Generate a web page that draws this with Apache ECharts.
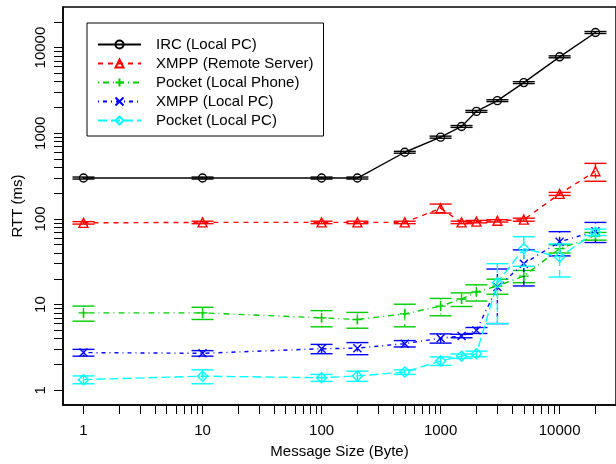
<!DOCTYPE html>
<html>
<head>
<meta charset="utf-8">
<script src="https://cdn.jsdelivr.net/npm/echarts@6/dist/echarts.min.js"></script>
<style>
  html, body { margin: 0; padding: 0; background: #fff; }
  #chart { width: 616px; height: 464px; }
</style>
</head>
<body>
<div id="chart"></div>
<script>
// message sizes (Byte)
const sizes = [1, 10, 100, 200, 500, 1000, 1500, 2000, 3000, 5000, 10000, 20000];

// RTT means (ms) and error half-widths
const ircLocal = [300, 300, 300, 300, 600, 900, 1200, 1800, 2400, 3900, 7800, 15000];
const ircLocalErr = [8, 8, 8, 8, 15, 25, 30, 45, 60, 100, 200, 400];
const xmppRemote = [90, 91, 91, 91, 91, 133, 91, 93, 95, 98, 196, 360];
const xmppRemoteErr = [3, 3, 3, 3, 3, 16, 3, 3, 3, 4, 8, 85];
const pocketPhone = [8, 8, 7, 6.7, 7.8, 9.6, 11.6, 14, 16.5, 21.5, 45, 63];
const pocketPhoneErr = [1.6, 1.3, 1.5, 1.4, 2.3, 2.2, 2.1, 3, 3.3, 3.5, 5, 6.5];
const xmppLocal = [2.75, 2.7, 3.05, 3.1, 3.5, 4.05, 4.3, 5, 16, 30, 54, 72];
const xmppLocalErr = [0.25, 0.2, 0.38, 0.5, 0.3, 0.5, 0.2, 0.4, 10, 13.5, 17, 19];
const pocketLocal = [1.33, 1.46, 1.4, 1.47, 1.63, 2.2, 2.5, 2.66, 18, 45, 36, 70];
const pocketLocalErr = [0.14, 0.27, 0.13, 0.2, 0.1, 0.25, 0.15, 0.2, 12, 17, 15, 6];

// axis ticks
const labelTicks = [1, 10, 100, 1000, 10000];
const allTicks = [1, 2, 3, 4, 5, 6, 7, 8, 9,
  10, 20, 30, 40, 50, 60, 70, 80, 90,
  100, 200, 300, 400, 500, 600, 700, 800, 900,
  1000, 2000, 3000, 4000, 5000, 6000, 7000, 8000, 9000,
  10000, 20000];

const FONT = 'Liberation Sans, Arial, sans-serif';
const LW = 1.4;

const seriesDefs = [
  { name: 'IRC (Local PC)', vals: ircLocal, errs: ircLocalErr, color: '#000000',
    dash: 'solid', symbol: 'circle', size: 8 },
  { name: 'XMPP (Remote Server)', vals: xmppRemote, errs: xmppRemoteErr, color: '#FF0000',
    dash: [5, 5], symbol: 'triangle', size: 9 },
  { name: 'Pocket (Local Phone)', vals: pocketPhone, errs: pocketPhoneErr, color: '#00CD00',
    dash: [1, 4, 6, 4], symbol: 'path://M0,5L10,5M5,0L5,10', size: 10 },
  { name: 'XMPP (Local PC)', vals: xmppLocal, errs: xmppLocalErr, color: '#0000FF',
    dash: [1, 4, 4, 4], symbol: 'path://M0,0L10,10M10,0L0,10', size: 8 },
  { name: 'Pocket (Local PC)', vals: pocketLocal, errs: pocketLocalErr, color: '#00FFFF',
    dash: [9, 4], symbol: 'diamond', size: 10 },
];

function errorBars(def, z) {
  const stemDash = Array.isArray(def.dash) ? def.dash : null;
  return {
    type: 'custom',
    name: def.name + ' err',
    silent: true,
    z: z,
    encode: { x: 0, y: 1 },
    data: sizes.map((s, i) => [s, def.vals[i], def.errs[i]]),
    renderItem: (params, api) => {
      const x = api.value(0), y = api.value(1), e = api.value(2);
      const top = api.coord([x, y + e]);
      const bot = api.coord([x, y - e]);
      const hw = 11;
      return {
        type: 'group',
        children: [
          { type: 'line', shape: { x1: top[0], y1: top[1], x2: bot[0], y2: bot[1] },
            style: { stroke: def.color, lineWidth: LW, lineDash: stemDash } },
          { type: 'line', shape: { x1: top[0] - hw, y1: top[1], x2: top[0] + hw, y2: top[1] },
            style: { stroke: def.color, lineWidth: LW } },
          { type: 'line', shape: { x1: bot[0] - hw, y1: bot[1], x2: bot[0] + hw, y2: bot[1] },
            style: { stroke: def.color, lineWidth: LW } },
        ],
      };
    },
  };
}

const series = [];
seriesDefs.forEach((def, k) => {
  series.push(errorBars(def, 2 + k * 2));
  series.push({
    name: def.name,
    type: 'line',
    z: 3 + k * 2,
    data: sizes.map((s, i) => [s, def.vals[i]]),
    symbol: def.symbol,
    symbolSize: def.size,
    showAllSymbol: true,
    lineStyle: { color: def.color, width: LW, type: def.dash },
    itemStyle: { color: 'none', borderColor: def.color, borderWidth: LW },
    emphasis: { disabled: true },
  });
});

const axisCommon = {
  type: 'log',
  logBase: 10,
  min: 0.6727,
  max: 29760,
  axisLine: { show: true, onZero: false, lineStyle: { color: '#000', width: 1.5 } },
  axisTick: { show: true, length: 9, customValues: allTicks, lineStyle: { color: '#000', width: 1 } },
  minorTick: { show: false },
  splitLine: { show: false },
  nameLocation: 'middle',
  nameTextStyle: { color: '#000', fontSize: 15, fontFamily: FONT },
};

const chart = echarts.init(document.getElementById('chart'), null, { renderer: 'canvas' });
chart.setOption({
  animation: false,
  backgroundColor: '#fff',
  grid: { left: 63, right: -5, top: 7, bottom: 58, show: true, borderColor: '#000', borderWidth: 1.5 },
  legend: {
    orient: 'vertical',
    left: 87,
    top: 23,
    itemWidth: 43,
    itemHeight: 10,
    itemGap: 4,
    padding: [14, 10, 8, 10],
    borderColor: '#000',
    borderWidth: 1,
    backgroundColor: '#fff',
    textStyle: { fontSize: 15, lineHeight: 15, color: '#000', fontFamily: FONT, padding: [0, 0, 0, 10] },
    data: seriesDefs.map(d => d.name),
  },
  xAxis: Object.assign({}, axisCommon, {
    name: 'Message Size (Byte)',
    nameGap: 39,
    axisLabel: { customValues: labelTicks, formatter: v => String(Math.round(v)), margin: 18,
      color: '#000', fontSize: 15, fontFamily: FONT },
  }),
  yAxis: Object.assign({}, axisCommon, {
    name: 'RTT (ms)',
    nameGap: 37,
    axisLabel: { customValues: labelTicks, formatter: v => String(Math.round(v)), margin: 15, rotate: 90,
      color: '#000', fontSize: 15, fontFamily: FONT },
  }),
  series: series,
});
</script>
</body>
</html>
